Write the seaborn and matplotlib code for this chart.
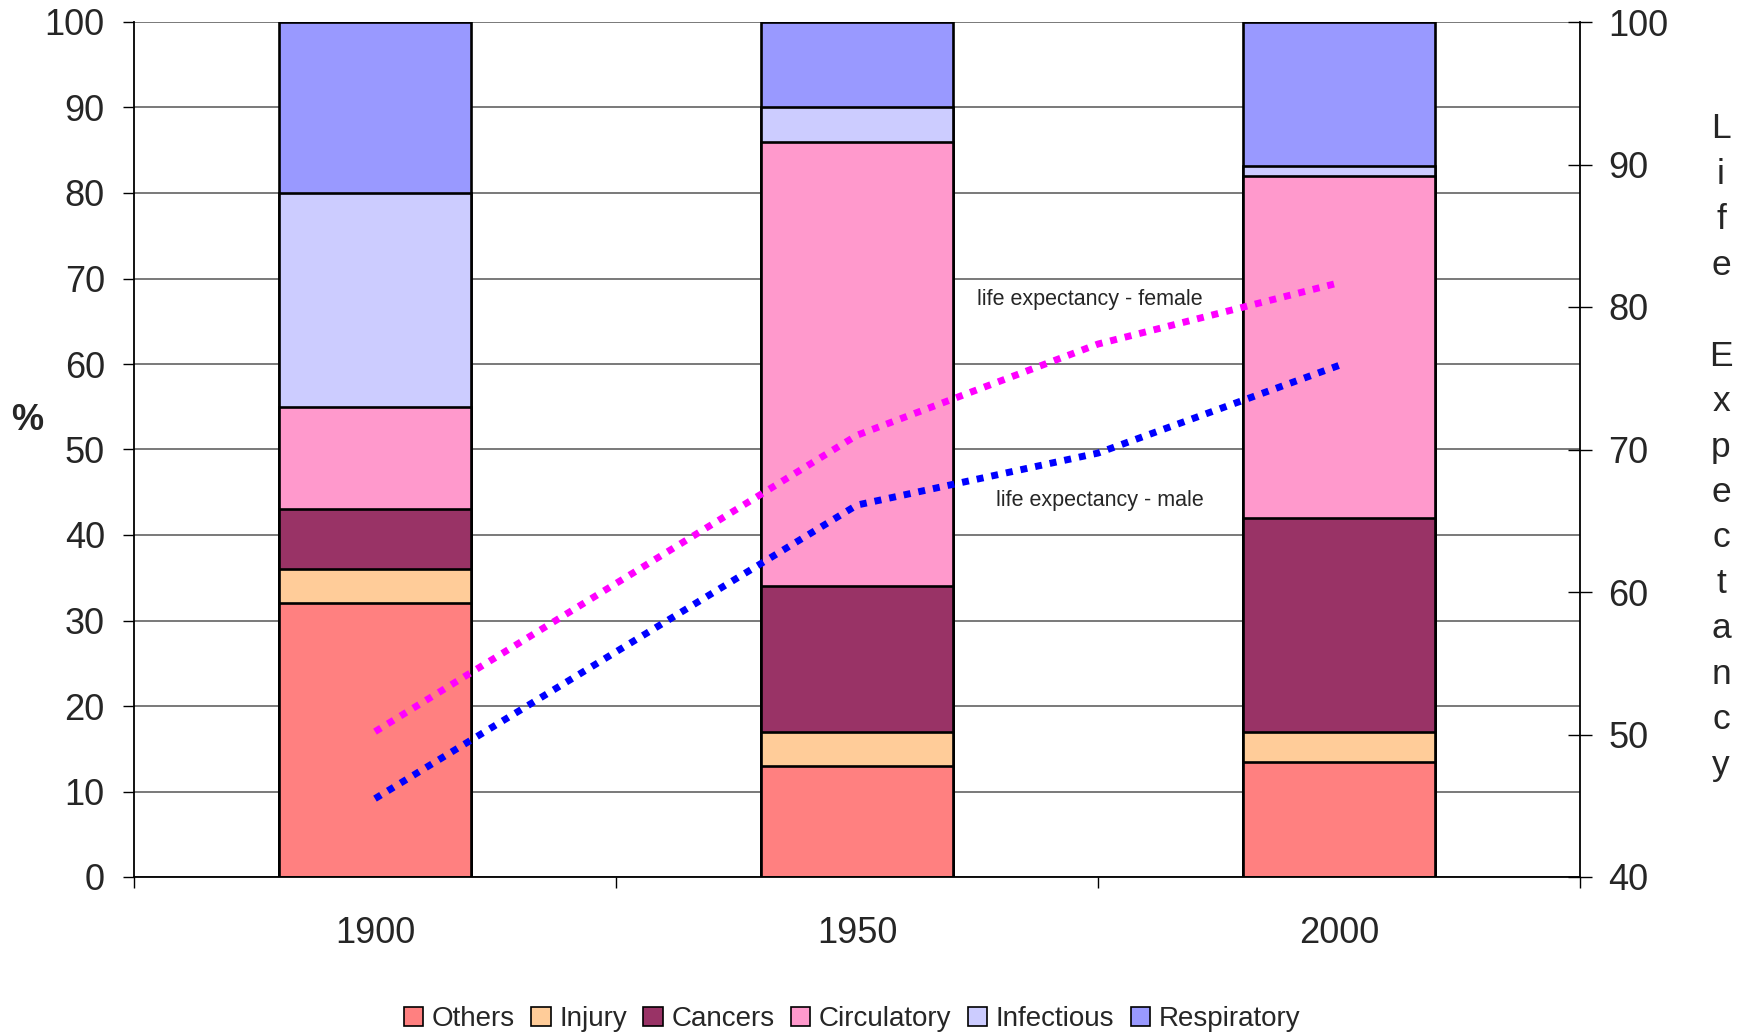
import numpy as np
import pandas as pd
import matplotlib
matplotlib.use("Agg")
import matplotlib.pyplot as plt
from matplotlib.patches import Patch
import seaborn as sns

# ---- data ----
years = ["1900", "1950", "2000"]
causes = ["Others", "Injury", "Cancers", "Circulatory", "Infectious", "Respiratory"]
others = [32, 13, 13.5]
injury = [4, 4, 3.5]
cancers = [7, 17, 25]
circulatory = [12, 52, 40]
infectious = [25, 4, 1.2]
respiratory = [20, 10, 16.8]
colors = ["#FF8080", "#FFCC99", "#993366", "#FF99CC", "#CCCCFF", "#9999FF"]

le_years = [1900, 1950, 1975, 2000]
le_female = [50.2, 71.0, 77.4, 81.7]
le_male = [45.5, 66.1, 69.75, 75.9]

sns.set_style("white")
plt.rcParams["font.family"] = ["Liberation Sans", "DejaVu Sans"]

fig = plt.figure(figsize=(17.51, 10.32), dpi=100)
L, R, T, B = 134 / 1751, 1580 / 1751, 1 - 22 / 1032, 1 - 877 / 1032
ax = fig.add_axes([L, B, R - L, T - B])

series = [others, injury, cancers, circulatory, infectious, respiratory]
cum = np.cumsum(np.array(series, dtype=float), axis=0)
# draw from top layer down so lower segments overlay
for i in range(len(causes) - 1, -1, -1):
    df = pd.DataFrame({"year": years, "value": cum[i]})
    sns.barplot(data=df, x="year", y="value", order=years, color=colors[i],
                saturation=1, width=0.4, edgecolor="black", linewidth=1.9, ax=ax)

ax.set_xlim(-0.5, 2.5)
ax.set_ylim(0, 100)
ax.set_yticks(range(0, 101, 10))
ax.set_axisbelow(True)
ax.yaxis.grid(True, color="#6e6e6e", linewidth=1.3)
ax.set_xlabel("")
ax.set_ylabel("")
for s in ["top", "right"]:
    ax.spines[s].set_visible(False)
for s in ["left", "bottom"]:
    ax.spines[s].set_color("black")
    ax.spines[s].set_linewidth(1.3)
ax.tick_params(axis="y", which="major", direction="out", length=8, width=1,
               color="black", left=True, labelsize=26, pad=13)
ax.tick_params(axis="x", which="major", length=0, labelsize=26, pad=28)
ax.set_xticks([-0.5, 0.5, 1.5, 2.5], minor=True)
ax.tick_params(axis="x", which="minor", direction="out", length=8, width=1,
               color="black", bottom=True)

# life expectancy axis
ax3 = fig.add_axes([L, B, R - L, T - B], sharex=None)
ax3.patch.set_visible(False)
sns.lineplot(x=le_years, y=le_female, color="#FF00FF", linewidth=5.0,
             linestyle=(0, (1.0, 1.15)), ax=ax3)
sns.lineplot(x=le_years, y=le_male, color="#0000FF", linewidth=5.0,
             linestyle=(0, (1.0, 1.15)), ax=ax3)
for ln in ax3.get_lines():
    ln.set_dash_capstyle("butt")
ax3.set_xlim(1875, 2025)
ax3.set_ylim(40, 100)
ax3.set_yticks(range(40, 101, 10))
ax3.yaxis.tick_right()
ax3.xaxis.set_visible(False)
for s in ["top", "left", "bottom"]:
    ax3.spines[s].set_visible(False)
ax3.spines["right"].set_color("black")
ax3.spines["right"].set_linewidth(1.3)
ax3.tick_params(axis="y", direction="inout", length=17, width=1, color="black",
                right=True, labelsize=26, pad=12)
ax3.set_ylabel("")
ax3.text(1974.2, 80.5, "life expectancy - female", ha="center", va="center", fontsize=15.5)
ax3.text(1975.2, 66.4, "life expectancy - male", ha="center", va="center", fontsize=15.5)

fig.text(27 / 1751, 1 - 420 / 1032, "%", ha="center", va="center",
         fontsize=26, fontweight="bold")
fig.text(1721 / 1751, 1 - 447 / 1032, "\n".join("Life Expectancy"),
         ha="center", va="center", fontsize=25.5, linespacing=1.48)

handles = [Patch(facecolor=c, edgecolor="black", linewidth=1.2) for c in colors]
fig.legend(handles, causes, loc="center", bbox_to_anchor=(852 / 1751, 1 - 1019 / 1032),
           ncol=6, frameon=False, fontsize=20, handlelength=0.7, handleheight=0.7,
           handletextpad=0.3, columnspacing=0.6, borderaxespad=0)

fig.savefig("out.png", dpi=100)
